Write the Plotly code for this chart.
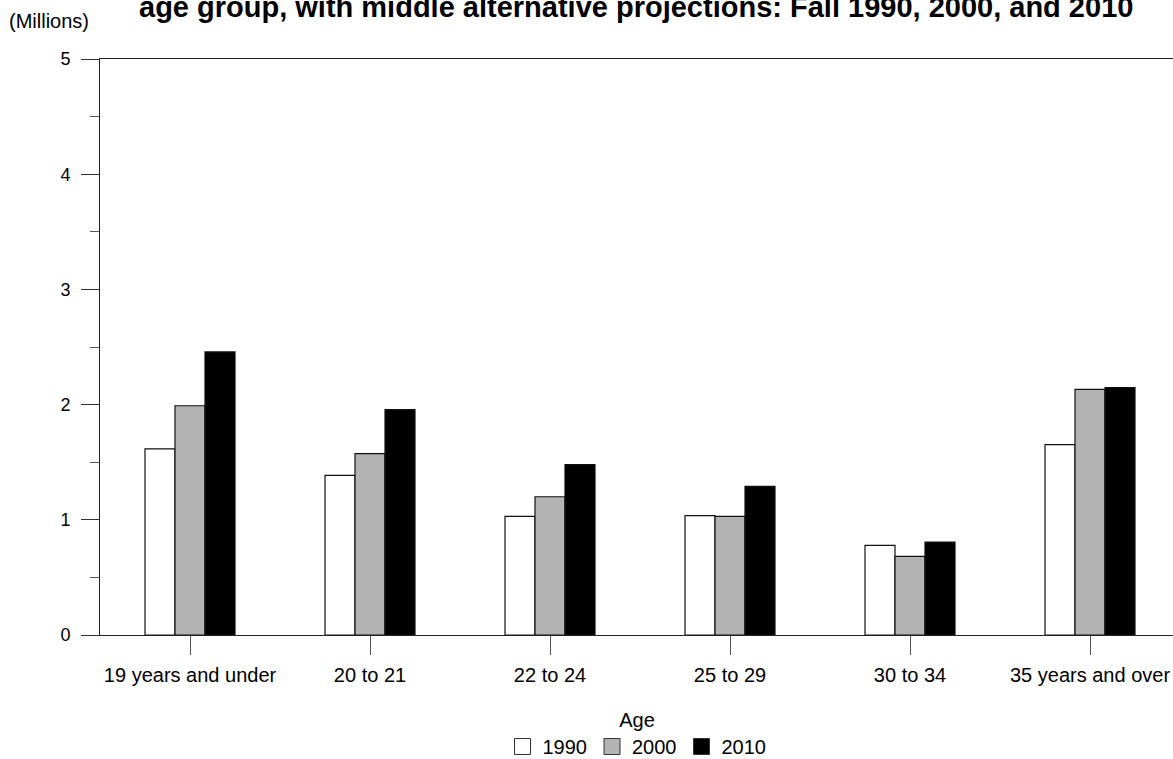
import plotly.graph_objects as go

categories = ["19 years and under", "20 to 21", "22 to 24", "25 to 29", "30 to 34", "35 years and over"]
years = ["1990", "2000", "2010"]
values_1990 = [1.615, 1.386, 1.03, 1.036, 0.778, 1.652]
values_2000 = [1.99, 1.574, 1.20, 1.03, 0.683, 2.133]
values_2010 = [2.457, 1.956, 1.48, 1.29, 0.807, 2.147]
colors = ["#ffffff", "#b3b3b3", "#000000"]
title_text = "age group, with middle alternative projections: Fall 1990, 2000, and 2010"

# body margin is removed by post_script; figure occupies 0..1173 x 0..759
W, H = 1173, 759
PL, PT, PB, PR = 100, 59, 635, 1173  # plot area in page pixels
ml, mt, mb, mr = PL, PT, H - PB, W - PR
pw, ph = PR - PL, PB - PT


def px(x):
    return (x - PL) / pw


def py(y):
    return (PB - y) / ph


fig = go.Figure()
for yr, vals, col in zip(years, [values_1990, values_2000, values_2010], colors):
    fig.add_trace(go.Bar(
        x=categories, y=vals, name=yr, showlegend=False,
        marker=dict(color=col, line=dict(color="#111111", width=1.2)),
    ))
    fig.add_trace(go.Scatter(
        x=[None], y=[None], mode="markers", name=yr,
        marker=dict(symbol="square", size=16, color=col, line=dict(color="#333333", width=1)),
    ))

font_family = "Liberation Sans, Arial, sans-serif"

fig.update_layout(
    width=W, height=H,
    margin=dict(l=ml, r=mr, t=mt, b=mb, autoexpand=False),
    plot_bgcolor="white", paper_bgcolor="white",
    font=dict(family=font_family, size=20, color="#000000"),
    barmode="group", bargap=0.5, bargroupgap=0,
    showlegend=True,
    legend=dict(
        orientation="h", x=px(637), xanchor="center",
        y=py(701), yanchor="top",
        title=dict(text="Age", side="top center", font=dict(size=20)),
        font=dict(size=20), itemsizing="trace", itemwidth=30,
        traceorder="normal", tracegroupgap=0,
    ),
    xaxis=dict(
        range=[-0.5, -0.5 + pw / 180.0],
        showline=True, linecolor="#222222", linewidth=1, mirror=True,
        ticks="outside", ticklen=19, tickcolor="#555555", tickwidth=1,
        showgrid=False, zeroline=False,
        ticklabelstandoff=3,
        tickfont=dict(size=20),
    ),
    yaxis=dict(
        range=[0, 5], tickvals=[0, 1, 2, 3, 4, 5],
        showline=True, linecolor="#222222", linewidth=1,
        ticks="outside", ticklen=18, tickcolor="#333333", tickwidth=1,
        minor=dict(dtick=0.5, ticks="outside", ticklen=9, tickcolor="#555555", tickwidth=1),
        showgrid=False, zeroline=False,
        ticklabelstandoff=7,
        tickfont=dict(size=18),
    ),
    annotations=[
        dict(text="(Millions)", xref="paper", yref="paper",
             x=px(7), y=py(21), xanchor="left", yanchor="middle",
             showarrow=False, font=dict(size=20)),
        dict(text="<b>" + title_text + "</b>", xref="paper", yref="paper",
             x=px(636), y=py(7), xanchor="center", yanchor="middle",
             showarrow=False, font=dict(size=29, family=font_family)),
    ],
)

fig.write_html(
    "out.html",
    config={"displayModeBar": False},
    post_script="document.body.style.margin='0';document.body.style.overflow='hidden';",
)
